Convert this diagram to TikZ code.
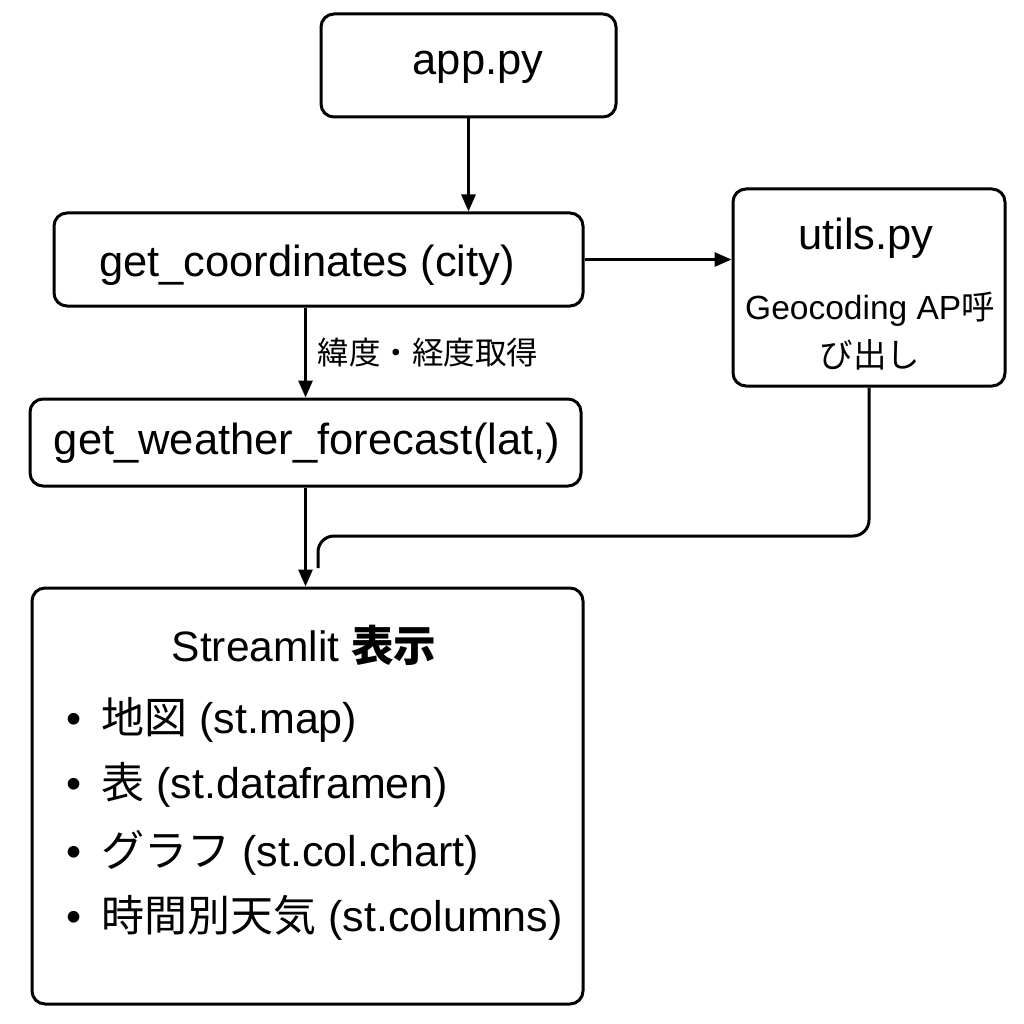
\documentclass[tikz,border=0pt]{standalone}
\usepackage{fontspec}
\setmainfont{Liberation Sans}
\newfontfamily\cjk{Noto Sans CJK JP}
\usetikzlibrary{arrows.meta}
\tikzset{
  box/.style={draw, line width=3pt, rounded corners=13pt, inner sep=0pt},
  conn/.style={line width=3pt, -{Triangle[length=17pt,width=14pt]}},
  big/.style={font=\fontsize{43.5}{48}\selectfont},
  mid/.style={font=\fontsize{33.5}{38}\selectfont},
  lbl/.style={font=\fontsize{31.5}{36}\selectfont},
  item/.style={font=\fontsize{43}{48}\selectfont, anchor=west},
}
\begin{document}
\begin{tikzpicture}[x=1pt,y=-1pt]
\useasboundingbox (0,0) rectangle (1024,1024);
% boxes
\node[box, minimum width=295pt, minimum height=103pt] (app) at (468.5,65.5) {};
\node[big] (appt) at (478,67) {app.py};
\node[box, minimum width=529pt, minimum height=93pt] (gc) at (318.5,259.5) {};
\node[big] (gct) at (307,265) {get\_coordinates (city)};
\node[box, minimum width=272pt, minimum height=197pt] (ut) at (869,287.5) {};
\node[big] (utt) at (866,238) {utils.py};
\node[mid] (ut1) at (870,309) {Geocoding AP{\cjk 呼}};
\node[mid] (ut2) at (870,355) {\cjk び出し};
\node[box, minimum width=551pt, minimum height=87pt] (gw) at (305.5,442.5) {};
\node[big] (gwt) at (307,443) {get\_weather\_forecast\hspace{1pt}(lat,)};
\node[box, minimum width=551pt, minimum height=416pt] (st) at (307.5,796) {};
\node[font=\fontsize{42.5}{46}\selectfont] (stt) at (304,645) {Streamlit {\cjk\bfseries 表示}};
\node[item] (b1) at (63,720) {•\hspace{20pt}{\cjk 地図} (st.map)};
\node[item] (b2) at (63,785) {•\hspace{20pt}{\cjk 表} (st.dataframen)};
\node[item] (b3) at (63,853) {•\hspace{20pt}{\cjk グラフ} (st.col.chart)};
\node[item] (b4) at (63,918) {•\hspace{20pt}{\cjk 時間別天気} (st.columns)};
% label
\node[lbl, anchor=west] (lab) at (314,353) {\cjk 緯度・経度取得};
% connectors
\draw[conn] (app.south) -- (app.south |- gc.north);
\draw[conn] (gw.north |- gc.south) -- (gw.north);
\draw[conn] (gc.east) -- (gc.east -| ut.west);
\draw[conn] (gw.south) -- (gw.south |- st.north);
\coordinate (uend) at (318,568);
\draw[line width=3pt, rounded corners=16pt] (ut.south) -- (ut.south |- 0,536) -- (uend |- 0,536) -- (uend);
\end{tikzpicture}
\end{document}
